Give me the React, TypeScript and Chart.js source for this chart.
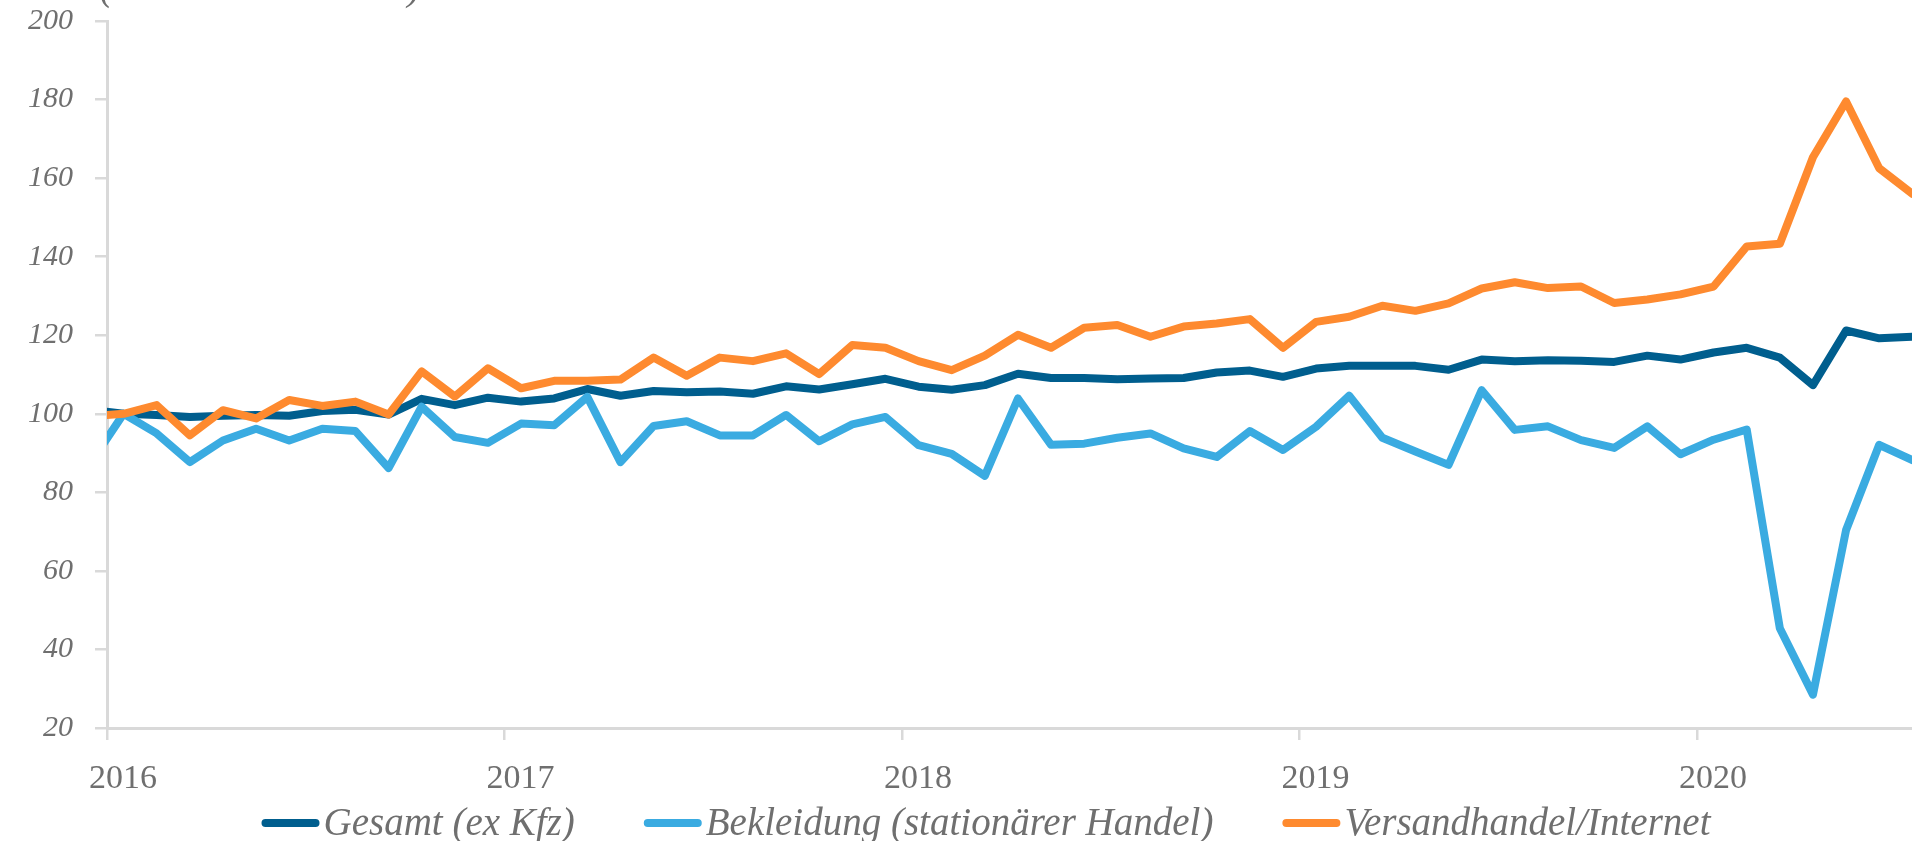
import { useEffect, useRef } from 'react';
import { Chart, registerables } from 'chart.js';

Chart.register(...registerables);

// Monthly observations, Dec 2015 .. Jul 2020 (index base: Jan 2016 = 100)
const months = [
  '2015-12',
  '2016-01', '2016-02', '2016-03', '2016-04', '2016-05', '2016-06', '2016-07', '2016-08', '2016-09', '2016-10', '2016-11', '2016-12',
  '2017-01', '2017-02', '2017-03', '2017-04', '2017-05', '2017-06', '2017-07', '2017-08', '2017-09', '2017-10', '2017-11', '2017-12',
  '2018-01', '2018-02', '2018-03', '2018-04', '2018-05', '2018-06', '2018-07', '2018-08', '2018-09', '2018-10', '2018-11', '2018-12',
  '2019-01', '2019-02', '2019-03', '2019-04', '2019-05', '2019-06', '2019-07', '2019-08', '2019-09', '2019-10', '2019-11', '2019-12',
  '2020-01', '2020-02', '2020-03', '2020-04', '2020-05', '2020-06', '2020-07',
];

const gesamt = [
  101.0,
  100.0, 99.7, 99.2, 99.5, 99.7, 99.5, 100.7, 101.0, 99.8, 103.8, 102.2, 104.1,
  103.1, 103.9, 106.3, 104.6, 105.8, 105.5, 105.7, 105.1, 107.0, 106.2, 107.5, 108.9,
  106.9, 106.1, 107.3, 110.2, 109.1, 109.1, 108.8, 109.0, 109.1, 110.5, 111.0, 109.4,
  111.5, 112.2, 112.2, 112.2, 111.2, 113.8, 113.4, 113.6, 113.5, 113.2, 114.8, 113.8,
  115.6, 116.8, 114.3, 107.3, 121.2, 119.2, 119.6,
];

const bekleidung = [
  87.4,
  100.0, 95.0, 87.7, 93.2, 96.2, 93.2, 96.2, 95.6, 86.2, 101.8, 94.1, 92.6,
  97.5, 97.1, 104.3, 87.7, 96.9, 98.1, 94.5, 94.5, 99.7, 93.0, 97.3, 99.2,
  92.0, 89.8, 84.2, 103.9, 92.1, 92.4, 93.9, 95.0, 91.2, 89.0, 95.6, 90.8,
  96.7, 104.6, 93.9, 90.4, 87.0, 106.0, 95.9, 96.8, 93.3, 91.3, 96.8, 89.7,
  93.4, 96.0, 45.4, 28.5, 70.4, 92.1, 88.2,
];

const versand = [
  99.4,
  100.0, 102.2, 94.5, 100.9, 98.8, 103.5, 102.0, 103.1, 99.8, 110.8, 104.4, 111.6,
  106.5, 108.4, 108.4, 108.7, 114.3, 109.7, 114.3, 113.4, 115.4, 110.1, 117.5, 116.8,
  113.4, 111.1, 114.8, 120.1, 116.8, 121.9, 122.6, 119.6, 122.2, 123.0, 124.1, 116.8,
  123.4, 124.7, 127.5, 126.2, 128.1, 131.9, 133.5, 132.0, 132.4, 128.2, 129.1, 130.4,
  132.4, 142.6, 143.3, 165.3, 179.5, 162.5, 156.0,
];

const seriesNames = ['Gesamt (ex Kfz)', 'Bekleidung (stationärer Handel)', 'Versandhandel/Internet'];
const seriesColors = ['#005e8e', '#3aabe1', '#fe8a2f'];

// x axis: months since start of 2016; year boundaries are the ticks
const yearTicks = [0, 12, 24, 36, 48];
const yearLabels = ['2016', '2017', '2018', '2019', '2020'];
const yMin = 20;
const yMax = 200;
const yStep = 20;
const noteText = '(Januar 2016 = 100)';

const TEXT = '#6f6f6f';
const AXIS = '#d9d9d9';

const toPoints = (vals: number[]) => months.map((_, k) => ({ x: k - 0.5, y: vals[k] }));

const legendPlugin = {
  id: 'customLegend',
  afterDraw(chart: any) {
    const ctx = chart.ctx;
    ctx.save();
    ctx.font = 'italic 39px "Liberation Serif"';
    const markerW = 58;
    const gap = 4;
    const itemGap = 69;
    const items = chart.data.datasets.map((d: any) => ({
      text: d.label,
      color: d.borderColor,
      w: ctx.measureText(d.label).width,
    }));
    const total = items.reduce((s: number, it: any) => s + markerW + gap + it.w, 0) + itemGap * (items.length - 1);
    let x = 986 - total / 2;
    const yMid = 823;
    items.forEach((it: any) => {
      ctx.strokeStyle = it.color;
      ctx.lineWidth = 8;
      ctx.lineCap = 'round';
      ctx.beginPath();
      ctx.moveTo(x + 4, yMid);
      ctx.lineTo(x + markerW - 4, yMid);
      ctx.stroke();
      ctx.fillStyle = TEXT;
      ctx.textBaseline = 'alphabetic';
      ctx.textAlign = 'left';
      ctx.fillText(it.text, x + markerW + gap, 835);
      x += markerW + gap + it.w + itemGap;
    });
    ctx.restore();
  },
};

const notePlugin = {
  id: 'note',
  afterDraw(chart: any) {
    const ctx = chart.ctx;
    ctx.save();
    ctx.font = 'italic 38px "Liberation Serif"';
    ctx.fillStyle = TEXT;
    ctx.textBaseline = 'alphabetic';
    ctx.textAlign = 'left';
    ctx.fillText(noteText, 100, 0);
    ctx.restore();
  },
};

export default function App() {
  const ref = useRef<HTMLCanvasElement | null>(null);

  useEffect(() => {
    if (!ref.current) return;
    const mk = (i: number, vals: number[], order: number) => ({
      label: seriesNames[i],
      data: toPoints(vals),
      borderColor: seriesColors[i],
      backgroundColor: seriesColors[i],
      borderWidth: 8,
      pointRadius: 0,
      tension: 0,
      borderJoinStyle: 'round' as const,
      borderCapStyle: 'round' as const,
      clip: { left: 0, right: 0, top: 10, bottom: 10 },
      order,
    });
    const gridCfg = {
      drawOnChartArea: false,
      drawTicks: true,
      tickLength: 12,
      color: AXIS,
      lineWidth: 2.5,
    };
    const chart = new Chart(ref.current, {
      type: 'line',
      data: {
        datasets: [mk(0, gesamt, 2), mk(1, bekleidung, 1), mk(2, versand, 0)],
      },
      plugins: [legendPlugin, notePlugin],
      options: {
        animation: false,
        responsive: true,
        maintainAspectRatio: false,
        layout: { padding: { top: 21, left: 0, right: 0, bottom: 0 } },
        plugins: {
          legend: { display: false },
          tooltip: { enabled: false },
          title: { display: false },
        },
        scales: {
          x: {
            type: 'linear',
            min: 0,
            max: 54.49,
            afterFit: (s: any) => {
              s.height = 113;
              s.paddingLeft = 0;
              s.paddingRight = 0;
            },
            afterBuildTicks: (s: any) => {
              s.ticks = yearTicks.map((v) => ({ value: v }));
            },
            ticks: {
              autoSkip: false,
              maxRotation: 0,
              padding: 19,
              labelOffset: 16,
              color: TEXT,
              font: { family: 'Liberation Serif', size: 34 },
              callback: (v: any) => {
                const idx = yearTicks.indexOf(Number(v));
                return idx >= 0 ? yearLabels[idx] : '';
              },
            },
            grid: gridCfg,
            border: { display: true, color: AXIS, width: 3 },
          },
          y: {
            min: yMin,
            max: yMax,
            afterFit: (s: any) => {
              s.width = 107;
              s.paddingTop = 0;
              s.paddingBottom = 0;
            },
            ticks: {
              stepSize: yStep,
              padding: 22,
              color: TEXT,
              font: { family: 'Liberation Serif', size: 30, style: 'italic' },
            },
            grid: gridCfg,
            border: { display: true, color: AXIS, width: 3 },
          },
        },
      },
    });
    return () => chart.destroy();
  }, []);

  return (
    <div style={{ position: 'fixed', left: 0, top: 0, width: '100vw', height: '100vh', background: '#fff' }}>
      <canvas ref={ref} />
    </div>
  );
}
